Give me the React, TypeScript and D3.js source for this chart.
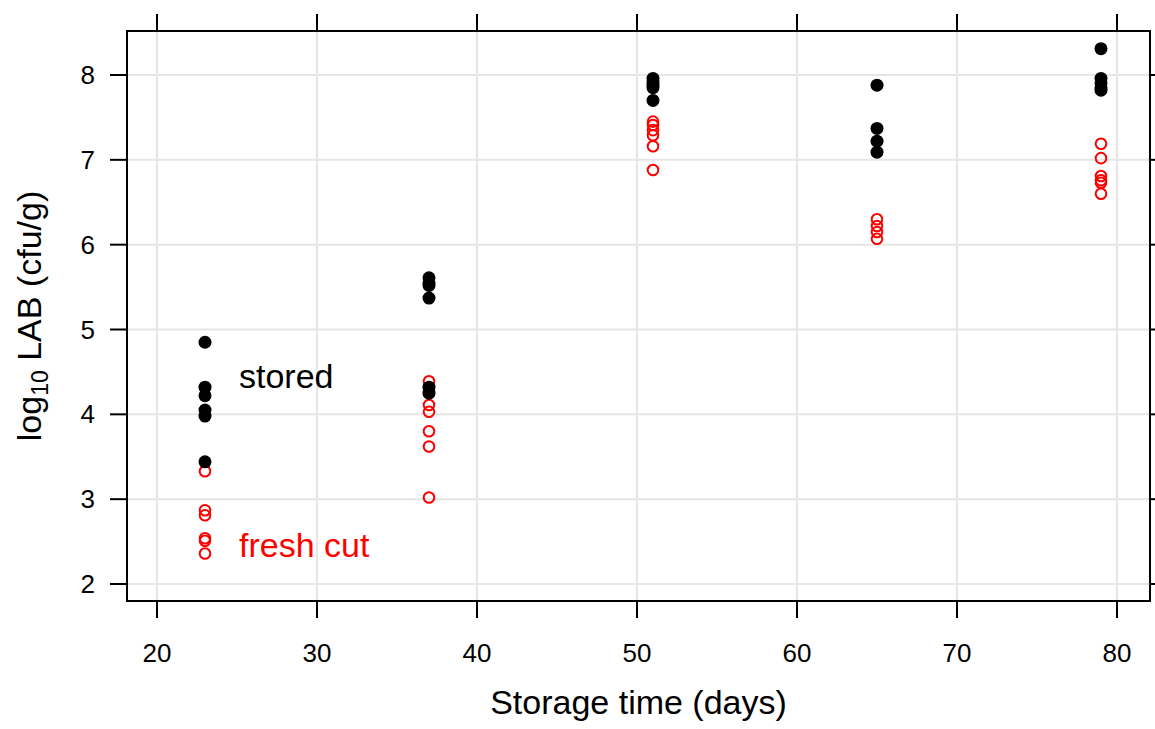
import React from "react";
import { scaleLinear } from "d3";

// storage days sampled
const days = [23, 37, 51, 65, 79];

// log10 LAB (cfu/g), one array per day
const stored = [
  [4.85, 4.32, 4.22, 4.05, 3.98, 3.44],
  [5.61, 5.55, 5.52, 5.37, 4.32, 4.25],
  [7.96, 7.92, 7.88, 7.85, 7.7],
  [7.88, 7.37, 7.22, 7.09],
  [8.31, 7.96, 7.9, 7.85, 7.82],
];
const freshCut = [
  [3.33, 2.87, 2.81, 2.54, 2.51, 2.36],
  [4.39, 4.11, 4.03, 3.8, 3.62, 3.02],
  [7.45, 7.41, 7.35, 7.29, 7.16, 6.88],
  [6.3, 6.22, 6.15, 6.07],
  [7.19, 7.02, 6.81, 6.76, 6.73, 6.6],
];

const xTicks = [20, 30, 40, 50, 60, 70, 80];
const yTicks = [2, 3, 4, 5, 6, 7, 8];

const W = 1155;
const H = 729;
const frame = { left: 127, right: 1150, top: 31, bottom: 601 };
const FONT = "'Liberation Sans', Arial, Helvetica, sans-serif";

const App = () => {
  const x = scaleLinear().domain([20, 80]).range([157, 1117]);
  const y = scaleLinear().domain([2, 8]).range([584, 75]);
  const tick = 17;

  const pts = (arr: number[][]) =>
    arr.flatMap((vals, i) => vals.map((v) => ({ d: days[i], v })));

  return (
    <svg
      width={W}
      height={H}
      style={{ position: "absolute", left: 0, top: 0, background: "#fff" }}
      fontFamily={FONT}
    >
      {/* grid */}
      <g stroke="#e6e6e6" strokeWidth={2}>
        {xTicks.map((t) => (
          <line key={"gx" + t} x1={x(t)} x2={x(t)} y1={frame.top} y2={frame.bottom} />
        ))}
        {yTicks.map((t) => (
          <line key={"gy" + t} x1={frame.left} x2={frame.right} y1={y(t)} y2={y(t)} />
        ))}
      </g>

      {/* ticks */}
      <g stroke="#000" strokeWidth={2}>
        {xTicks.map((t) => (
          <g key={"tx" + t}>
            <line x1={x(t)} x2={x(t)} y1={frame.bottom} y2={frame.bottom + tick} />
            <line x1={x(t)} x2={x(t)} y1={frame.top} y2={frame.top - tick} />
          </g>
        ))}
        {yTicks.map((t) => (
          <g key={"ty" + t}>
            <line x1={frame.left} x2={frame.left - tick} y1={y(t)} y2={y(t)} />
            <line x1={frame.right} x2={frame.right + tick} y1={y(t)} y2={y(t)} />
          </g>
        ))}
      </g>

      {/* tick labels */}
      <g fontSize={26} fill="#000">
        {xTicks.map((t) => (
          <text key={"lx" + t} x={x(t)} y={662} textAnchor="middle">
            {t}
          </text>
        ))}
        {yTicks.map((t) => (
          <text key={"ly" + t} x={95} y={y(t) + 9} textAnchor="end">
            {t}
          </text>
        ))}
      </g>

      {/* points */}
      {pts(freshCut).map((p, i) => (
        <circle
          key={"f" + i}
          cx={x(p.d)}
          cy={y(p.v)}
          r={5.3}
          fill="none"
          stroke="#ff0000"
          strokeWidth={2}
        />
      ))}
      {pts(stored).map((p, i) => (
        <circle key={"s" + i} cx={x(p.d)} cy={y(p.v)} r={6.5} fill="#000" />
      ))}

      {/* frame */}
      <rect
        x={frame.left}
        y={frame.top}
        width={frame.right - frame.left}
        height={frame.bottom - frame.top}
        fill="none"
        stroke="#000"
        strokeWidth={2}
      />

      {/* in-plot labels */}
      <text x={239} y={388} fontSize={34} fill="#000">
        stored
      </text>
      <text x={239} y={557} fontSize={34} fill="#ff0000">
        fresh cut
      </text>

      {/* axis titles */}
      <text x={(frame.left + frame.right) / 2} y={714} fontSize={34} textAnchor="middle">
        Storage time (days)
      </text>
      <text
        transform={`translate(41, ${(frame.top + frame.bottom) / 2}) rotate(-90)`}
        fontSize={34}
        textAnchor="middle"
      >
        log
        <tspan fontSize={23} dy={7}>
          10
        </tspan>
        <tspan dy={-7}> LAB (cfu/g)</tspan>
      </text>
    </svg>
  );
};

export default App;
